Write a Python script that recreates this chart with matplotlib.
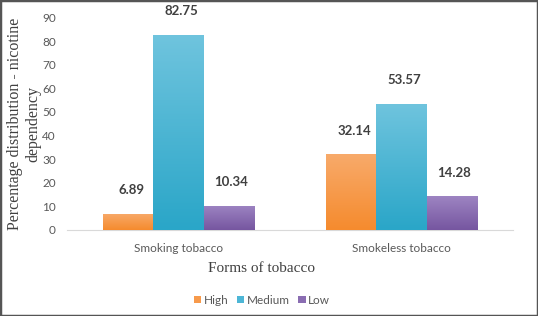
import matplotlib
matplotlib.use("Agg")
import matplotlib.pyplot as plt
import numpy as np
from matplotlib.colors import LinearSegmentedColormap
from matplotlib.patches import Rectangle

categories = ["Smoking tobacco", "Smokeless tobacco"]
series_names = ["High", "Medium", "Low"]
high = [6.89, 32.14]
medium = [82.75, 53.57]
low = [10.34, 14.28]
yticks = [0, 10, 20, 30, 40, 50, 60, 70, 80, 90]

colors_top = ["#F8AA6A", "#6FC4DE", "#9D84C2"]
colors_bot = ["#F58B2E", "#2AA6C8", "#7656A0"]
colors_mid = ["#F79A4B", "#4DB6D6", "#8A6DB2"]

fig = plt.figure(figsize=(5.38, 3.16), dpi=100)
ax = fig.add_axes([67/538, 1-230/316, 446/538, (230-17.5)/316])

x = np.arange(len(categories))
w = 0.225
values = [high, medium, low]
for i, (name, vals) in enumerate(zip(series_names, values)):
    bars = ax.bar(x + (i-1)*w, vals, width=w, color=colors_mid[i], label=name, zorder=2)
    cmap = LinearSegmentedColormap.from_list("g%d" % i, [colors_bot[i], colors_top[i]])
    for b in bars:
        bx, by = b.get_x(), b.get_y()
        bw, bh = b.get_width(), b.get_height()
        grad = np.linspace(0, 1, 100).reshape(-1, 1)
        im = ax.imshow(grad, cmap=cmap, origin="lower", aspect="auto",
                       extent=[bx, bx+bw, by, by+bh], zorder=3)
        im.set_clip_path(b)
    for xi, v in zip(x + (i-1)*w, vals):
        ax.annotate(f"{v:.2f}", (xi, v), xytext=(2, 17), textcoords="offset points",
                    ha="center", va="center", fontsize=9.5, fontweight="bold",
                    color="#404040", family="Lato", zorder=4, annotation_clip=False)

ax.set_xlim(-0.5, 1.5)
ax.set_ylim(0, 90)
ax.set_yticks(yticks)
ax.set_xticks(x)
ax.set_xticklabels(categories, family="Lato", fontsize=8.5, color="#595959")
ax.set_yticklabels([str(t) for t in yticks], family="Lato", fontsize=8.5, color="#595959")
for s in ["top", "right", "left"]:
    ax.spines[s].set_visible(False)
ax.spines["bottom"].set_color("#D9D9D9")
ax.tick_params(axis="both", length=0)
ax.tick_params(axis="y", pad=8)
ax.tick_params(axis="x", pad=9)

fig.text(15/538, 1-124/316, "Percentage distribution - nicotine", rotation=90,
         ha="center", va="center", family="Liberation Serif", fontsize=11.5, color="#404040")
fig.text(33/538, 1-124/316, "dependency", rotation=90,
         ha="center", va="center", family="Liberation Serif", fontsize=11.5, color="#404040")
fig.text(262/538, 1-269/316, "Forms of tobacco", ha="center", va="center",
         family="Liberation Serif", fontsize=11, color="#404040")

handles, labels = ax.get_legend_handles_labels()
fig.legend(handles, labels, loc="center", bbox_to_anchor=(262/538, 1-300/316), ncol=3,
           frameon=False, prop={"family": "Lato", "size": 8.5},
           handlelength=0.6, handleheight=0.6, handletextpad=0.2, columnspacing=0.75,
           borderpad=0, labelcolor="#595959")

fig.add_artist(Rectangle((0, 0), 1, 1, transform=fig.transFigure, fill=False,
                         edgecolor="#555555", linewidth=2.5, zorder=10))

fig.savefig("out.png", dpi=100)
